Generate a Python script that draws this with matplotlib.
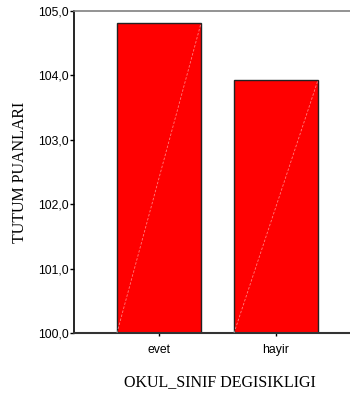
import matplotlib.pyplot as plt
from matplotlib.ticker import FuncFormatter

# Data
categories = ['evet', 'hayir']
means = [104.81, 103.93]
y_ticks = [100, 101, 102, 103, 104, 105]

fig = plt.figure(figsize=(3.5, 3.94), dpi=100)
ax = fig.add_axes([74 / 350, 1 - 333 / 394, 276 / 350, 322 / 394])

x = list(range(len(categories)))
bars = ax.bar(x, means, width=0.718, bottom=0, color='#ff0000',
              edgecolor='#222222', linewidth=1.0, zorder=2)

# faint white diagonal inside each bar
for b in bars:
    x0 = b.get_x()
    ax.plot([x0, x0 + b.get_width()], [100, b.get_height()],
            color='white', lw=0.6, alpha=0.5, ls=(0, (3, 2)), zorder=3)

ax.set_xlim(-0.726, 1.632)
ax.set_ylim(100, 105)
ax.set_xticks(x)
ax.set_xticklabels(categories)
ax.set_yticks(y_ticks)
ax.yaxis.set_major_formatter(FuncFormatter(lambda v, p: f'{v:.1f}'.replace('.', ',')))

for lab in ax.get_xticklabels() + ax.get_yticklabels():
    lab.set_fontfamily('Liberation Sans')
    lab.set_fontsize(8.8)

ax.tick_params(axis='y', length=3, width=1, pad=1)
ax.tick_params(axis='x', length=2, width=1, pad=6)

ax.spines['right'].set_visible(False)
ax.spines['top'].set_color('#808080')
ax.spines['top'].set_linewidth(1.2)
ax.spines['left'].set_linewidth(1.2)
ax.spines['bottom'].set_linewidth(1.5)
ax.spines['bottom'].set_color('#333333')

# axis titles placed in figure pixels
fig.text(20 / 350, 1 - 172 / 394, 'TUTUM PUANLARI', rotation=90,
         ha='center', va='center', fontfamily='Liberation Serif', fontsize=11.5)
fig.text(220 / 350, 1 - 382 / 394, 'OKUL_SINIF DEGISIKLIGI',
         ha='center', va='center', fontfamily='Liberation Serif', fontsize=11.5)

fig.savefig('out.png', dpi=100)
